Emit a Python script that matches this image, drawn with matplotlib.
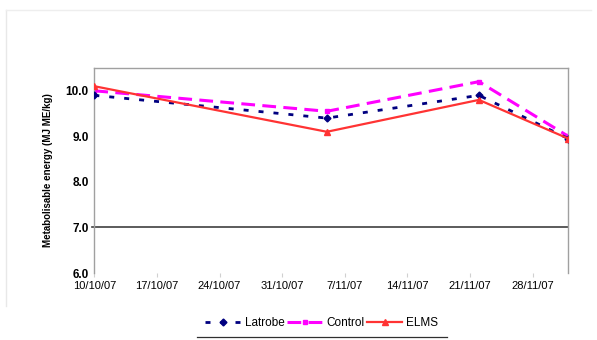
import numpy as np
import matplotlib.pyplot as plt
from datetime import datetime

plt.rcParams['font.family'] = ['Liberation Sans', 'DejaVu Sans']

dates = ["10/10/07", "5/11/07", "22/11/07", "2/12/07"]
latrobe = [9.9, 9.4, 9.9, 8.95]
control = [10.0, 9.55, 10.2, 9.0]
elms = [10.1, 9.1, 9.8, 8.95]
tick_dates = ["10/10/07", "17/10/07", "24/10/07", "31/10/07",
              "7/11/07", "14/11/07", "21/11/07", "28/11/07"]

x = [datetime.strptime(d, "%d/%m/%y") for d in dates]
xt = [datetime.strptime(d, "%d/%m/%y") for d in tick_dates]

fig = plt.figure(figsize=(5.97, 3.4), dpi=100)
ax = fig.add_axes([0.158, 0.197, 0.794, 0.603])

ax.axhline(7.0, color='#404040', lw=1.2, xmin=-0.005, clip_on=False, zorder=1)

ax.plot(x, latrobe, color='#000080', lw=2, dashes=(1.8, 3.6), marker='D', ms=3.5,
        label='Latrobe', zorder=3)
ax.plot(x, control, color='#ff00ff', lw=2.2, dashes=(4.5, 2.4), marker='s', ms=3.5,
        label='Control', zorder=2)
ax.plot(x, elms, color='#ff3333', lw=1.6, marker='^', ms=4.5,
        label='ELMS', zorder=4)

ax.set_xlim(xt[0], datetime(2007, 12, 2))
ax.set_ylim(6.0, 10.5)
ax.set_xticks(xt)
ax.set_xticklabels(tick_dates, fontsize=8)
ax.set_yticks([6, 7, 8, 9, 10])
ax.set_yticklabels(["6.0", "7.0", "8.0", "9.0", "10.0"], fontsize=8.5, fontweight='bold')
ax.tick_params(axis='x', length=3, color='#d0d0d0', pad=3)
ax.tick_params(axis='y', length=0, pad=4)

for s in ['left', 'top', 'right']:
    ax.spines[s].set_color('#a0a0a0')
    ax.spines[s].set_linewidth(1)
ax.spines['bottom'].set_visible(False)

ax.set_ylabel('Metabolisable energy (MJ ME/kg)', fontsize=7, fontweight='bold', labelpad=9)

leg = fig.legend(loc='center', bbox_to_anchor=(0.539, 0.05), ncol=3, frameon=False,
                 fontsize=8.5, handlelength=3.0, handletextpad=0.35, columnspacing=0.2,
                 borderpad=0.2)
fig.add_artist(plt.Line2D([0.33, 0.749], [0.009, 0.009], color='#303030', lw=0.9))
fig.add_artist(plt.Line2D([0.01, 0.01], [0.1, 0.97], color='#e8e8e8', lw=1))
fig.add_artist(plt.Line2D([0.01, 0.99], [0.97, 0.97], color='#eeeeee', lw=1))

plt.savefig('out.png', dpi=100)
